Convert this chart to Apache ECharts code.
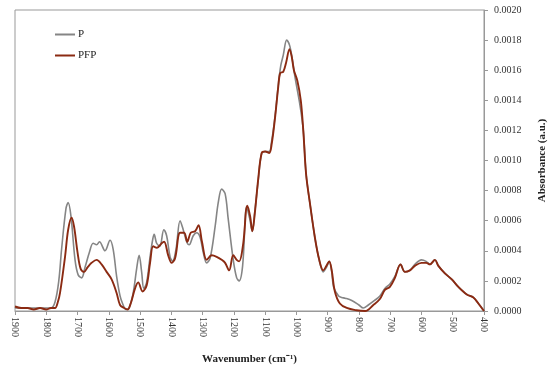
<!DOCTYPE html>
<html><head><meta charset="utf-8">
<script src="https://cdn.jsdelivr.net/npm/echarts@6/dist/echarts.min.js"></script>
<style>html,body{margin:0;padding:0;background:#fff}#c{width:550px;height:366px}</style>
</head><body><div id="c"></div>
<script>
const seriesNames = ['P', 'PFP'];
const xTicks = [1900,1800,1700,1600,1500,1400,1300,1200,1100,1000,900,800,700,600,500,400];
const wnP = [1900,1850,1800,1785,1772,1760,1751,1737,1730,1721,1708,1698,1687,1676,1662,1650,1639,1630,1612,1596,1586,1575,1564,1556,1545,1535,1522,1511,1503,1495,1488,1479,1468,1460,1455,1447,1437,1424,1415,1404,1396,1385,1372,1362,1351,1343,1330,1319,1308,1298,1287,1276,1260,1250,1239,1228,1218,1202,1191,1183,1172,1159,1150,1141,1133,1122,1111,1100,1087,1079,1068,1058,1050,1042,1031,1021,1012,1005,988,978,969,957,941,927,914,904,895,887,881,865,855,844,823,800,786,770,750,733,717,701,685,667,653,637,621,600,585,573,557,546,525,503,482,455,434,418,400];
const absP = [0.00002,0.00002,0.00002,0.00002,0.00006,0.0002,0.00041,0.00068,0.00072,0.00063,0.00034,0.00024,0.00022,0.00029,0.00039,0.00045,0.00044,0.00046,0.0004,0.00047,0.00041,0.00023,0.0001,0.00005,0.00001,0.00002,0.00012,0.00028,0.00037,0.00026,0.00015,0.00019,0.00036,0.00047,0.00051,0.00045,0.00043,0.00054,0.0005,0.00036,0.00033,0.00041,0.0006,0.00054,0.00046,0.00044,0.0005,0.00052,0.00049,0.00039,0.00032,0.00035,0.00056,0.00072,0.00081,0.00078,0.00061,0.00034,0.00022,0.0002,0.0003,0.00069,0.00062,0.00053,0.00066,0.00087,0.00105,0.00106,0.00106,0.00113,0.0013,0.0015,0.00163,0.0017,0.0018,0.00176,0.00166,0.00156,0.00136,0.0012,0.00091,0.00072,0.00049,0.00034,0.00026,0.00029,0.00033,0.00026,0.00016,0.0001,0.00009,0.000085,0.00007,0.00004,0.00002,0.00004,0.00007,0.0001,0.00015,0.00018,0.00023,0.00031,0.00026,0.00027,0.00031,0.00034,0.00033,0.00031,0.00034,0.0003,0.00025,0.00021,0.00016,0.00011,0.00009,0.00005,0];
const wnPFP = [1900,1880,1860,1840,1820,1800,1785,1772,1763,1756,1740,1730,1719,1711,1700,1690,1679,1668,1655,1639,1623,1607,1591,1575,1564,1551,1540,1530,1516,1506,1492,1479,1468,1458,1446,1431,1423,1410,1399,1388,1372,1359,1349,1338,1324,1313,1302,1287,1271,1255,1239,1228,1215,1202,1191,1183,1170,1157,1148,1141,1133,1122,1111,1100,1087,1079,1068,1058,1052,1042,1033,1022,1015,1008,997,986,978,969,957,941,927,914,904,895,887,877,861,839,808,780,754,733,717,701,685,667,653,637,621,600,585,573,557,546,525,503,482,455,434,418,400];
const absPFP = [0.00003,0.00002,0.00002,0.00001,0.00002,0.00001,0.00002,0.00002,0.00006,0.00012,0.00036,0.00054,0.00062,0.00056,0.00039,0.00028,0.00026,0.00029,0.00032,0.00034,0.00031,0.00026,0.00021,0.00012,0.00004,0.00002,0.00001,0.00005,0.00015,0.00019,0.00013,0.00017,0.00032,0.00043,0.00042,0.00045,0.00046,0.00037,0.00032,0.00035,0.00052,0.00052,0.00046,0.00052,0.00053,0.00057,0.00046,0.00034,0.00037,0.00036,0.00034,0.00032,0.00027,0.00037,0.00034,0.00033,0.00045,0.0007,0.00063,0.00053,0.00065,0.00088,0.00105,0.00106,0.00105,0.00111,0.00129,0.00149,0.00158,0.00159,0.00165,0.00174,0.00169,0.0016,0.00153,0.0014,0.0012,0.00091,0.00072,0.00049,0.00034,0.00027,0.0003,0.00033,0.00027,0.00013,0.00005,0.00002,0.000005,0,0.00004,0.00008,0.00014,0.00016,0.00022,0.00031,0.00026,0.00027,0.0003,0.00032,0.00032,0.00031,0.00034,0.0003,0.00025,0.00021,0.00016,0.00011,0.00009,0.00005,0];

const font = 'Liberation Serif';
const zip = (a, b) => a.map((x, i) => [x, b[i]]);
const chart = echarts.init(document.getElementById('c'));
chart.setOption({
  animation: false,
  backgroundColor: '#fff',
  grid: { left: 15, right: 66, top: 10, bottom: 55, show: true, borderColor: '#999', borderWidth: 1,
    containLabel: false, outerBoundsMode: 'none' },
  legend: {
    left: 50, top: 24, orient: 'vertical', itemWidth: 20, itemHeight: 2, itemGap: 10,
    icon: 'rect',
    textStyle: { fontFamily: font, fontSize: 11, color: '#222', padding: [0,0,0,-2] },
    data: seriesNames
  },
  xAxis: {
    type: 'value', inverse: true, min: 400, max: 1900, interval: 100,
    name: 'Wavenumber (cm⁻¹)', nameLocation: 'middle', nameGap: 43,
    nameTextStyle: { fontFamily: font, fontSize: 11, fontWeight: 'bold', color: '#222' },
    axisLine: { lineStyle: { color: '#999' } },
    axisTick: { show: true, length: 4, lineStyle: { color: '#999' } },
    axisLabel: { rotate: -90, fontFamily: font, fontSize: 10, color: '#333', margin: 6,
      formatter: v => xTicks.includes(v) ? String(v) : '' },
    splitLine: { show: false }
  },
  yAxis: {
    type: 'value', position: 'right', min: 0, max: 0.002, interval: 0.0002,
    name: 'Absorbance (a.u.)', nameLocation: 'middle', nameGap: 53, nameRotate: 90,
    nameTextStyle: { fontFamily: font, fontSize: 11, fontWeight: 'bold', color: '#222' },
    axisLine: { show: true, lineStyle: { color: '#999' } },
    axisTick: { show: true, length: 4, lineStyle: { color: '#999' } },
    axisLabel: { fontFamily: font, fontSize: 10, color: '#333', margin: 10, formatter: v => v.toFixed(4) },
    splitLine: { show: false }
  },
  series: [
    { name: seriesNames[0], type: 'line', data: zip(wnP, absP), symbol: 'none', smooth: 0.35,
      lineStyle: { color: '#858585', width: 1.6 }, itemStyle: { color: '#858585' }, z: 2 },
    { name: seriesNames[1], type: 'line', data: zip(wnPFP, absPFP), symbol: 'none', smooth: 0.35,
      lineStyle: { color: '#8B2A12', width: 1.9 }, itemStyle: { color: '#8B2A12' }, z: 3 }
  ]
});
</script></body></html>
